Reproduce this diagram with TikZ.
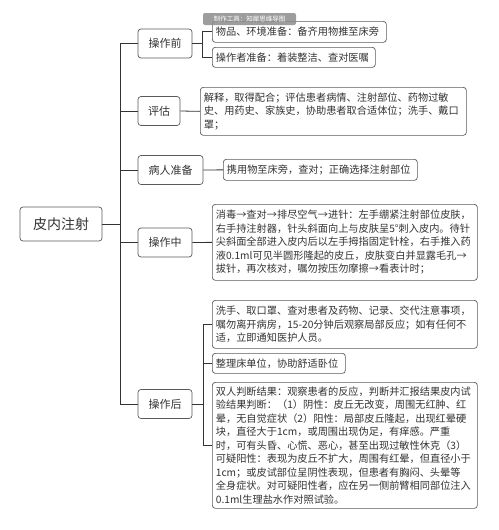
\documentclass[tikz,border=0pt]{standalone}
\usepackage{fontspec}
\setmainfont{Noto Sans CJK SC}
\definecolor{boxc}{HTML}{5A5A5A}
\definecolor{linec}{HTML}{333333}
\definecolor{txt}{HTML}{333333}
\begin{document}
\begin{tikzpicture}[x=1pt,y=-1pt]
\tikzset{
 box/.style={draw=boxc, line width=0.7pt, rounded corners=3pt, fill=white, text=txt, inner xsep=3.5pt, inner ysep=2pt},
 rootbox/.style={box, font=\fontsize{14}{16}\selectfont, minimum width=82pt, minimum height=34pt},
 lone/.style={box, font=\fontsize{11}{13}\selectfont, minimum height=29pt},
 leaf/.style={box, font=\fontsize{10.2}{13.5}\selectfont, align=left, anchor=north west},
 link/.style={draw=linec, line width=0.8pt},
 wmark/.style={fill=black!45, rounded corners=2pt, text=white, font=\fontsize{6.5}{7}\selectfont, minimum width=93pt, minimum height=12pt, inner sep=1pt, opacity=0.85, text opacity=1},
}
\useasboundingbox (0,0) rectangle (498,530);

\node[rootbox] (root) at (61,224) {皮内注射};
\node[lone, minimum width=54pt] (pre) at (165,43.5) {操作前};
\node[lone, minimum width=42pt] (eval) at (159,111) {评估};
\node[lone, minimum width=65pt] (prep) at (170.5,170) {病人准备};
\node[lone, minimum width=54pt] (mid) at (165,242.5) {操作中};
\node[lone, minimum width=54pt] (post) at (165,404) {操作后};

\node[leaf, text width=167pt, minimum height=21pt] (A1) at (212,21) {物品、环境准备：备齐用物推至床旁};
\node[leaf, text width=156pt, minimum height=20pt] (A2) at (212,47) {操作者准备：着装整洁、查对医嘱};
\node[leaf, text width=259pt, minimum height=48pt] (B) at (200,87) {解释，取得配合；评估患者病情、注射部位、药物过敏\\史、用药史、家族史，协助患者取合适体位；洗手、戴口\\罩；};
\node[leaf, text width=187pt, minimum height=21pt] (C) at (223,159) {携用物至床旁，查对；正确选择注射部位};
\node[leaf, text width=258pt, minimum height=76pt] (D) at (212,204) {消毒→查对→排尽空气→进针：左手绷紧注射部位皮肤，\\右手持注射器，针头斜面向上与皮肤呈5°刺入皮内。待针\\尖斜面全部进入皮内后以左手拇指固定针栓，右手推入药\\液0.1ml可见半圆形隆起的皮丘，皮肤变白并显露毛孔→\\拔针，再次核对，嘱勿按压勿摩擦→看表计时；};
\node[leaf, text width=258pt, minimum height=48pt] (E1) at (212,300) {洗手、取口罩、查对患者及药物、记录、交代注意事项，\\嘱勿离开病房，15-20分钟后观察局部反应；如有任何不\\适，立即通知医护人员。};
\node[leaf, text width=126pt, minimum height=20pt] (E2) at (212,353) {整理床单位，协助舒适卧位};
\node[leaf, text width=258pt, minimum height=126pt] (E3) at (212,382) {双人判断结果：观察患者的反应，判断并汇报结果皮内试\\验结果判断：（1）阴性：皮丘无改变，周围无红肿、红\\晕，无自觉症状（2）阳性：局部皮丘隆起，出现红晕硬\\块，直径大于1cm，或周围出现伪足，有痒感。严重\\时，可有头昏、心慌、恶心，甚至出现过敏性休克（3）\\可疑阳性：表现为皮丘不扩大，周围有红晕，但直径小于\\1cm；或皮试部位呈阴性表现，但患者有胸闷、头晕等\\全身症状。对可疑阳性者，应在另一侧前臂相同部位注入\\0.1ml生理盐水作对照试验。};

\coordinate (sp) at (120,224);
\draw[link] (root.east) -- (sp);
\foreach \n in {pre,eval,prep,mid,post} \draw[link] (sp) |- (\n.west);

\coordinate (bA) at (202,43.5);
\draw[link] (pre.east) -- (bA);
\draw[link] (bA) |- (A1.west);
\draw[link] (bA) |- (A2.west);
\draw[link] (eval.east) -- (B.west);
\draw[link] (prep.east) -- (C.west);
\draw[link] (mid.east) -- (D.west);
\coordinate (bE) at (203,404);
\draw[link] (post.east) -- (bE);
\draw[link] (bE) |- (E1.west);
\draw[link] (bE) |- (E2.west);
\draw[link] (bE) |- (E3.west);

\node[wmark] (wm) at (249.5,19) {制作工具：知犀思维导图};
\end{tikzpicture}
\end{document}
